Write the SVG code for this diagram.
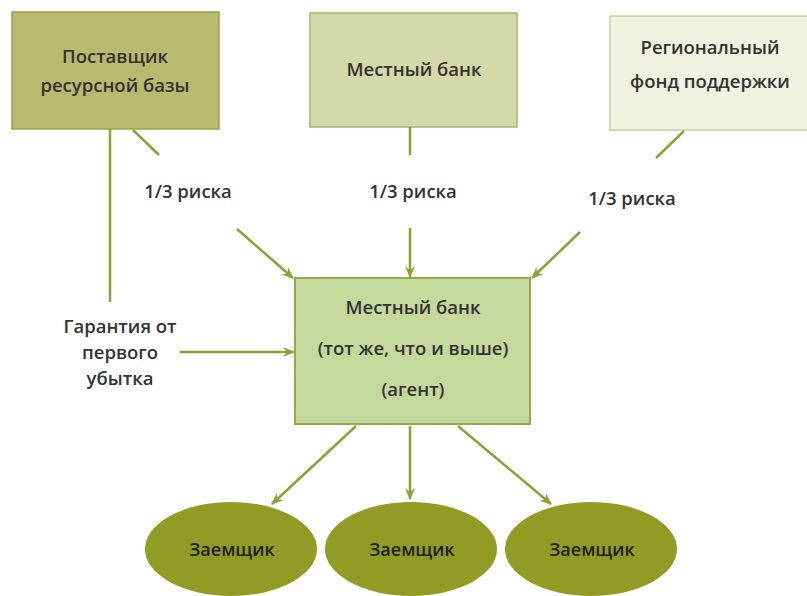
<svg xmlns="http://www.w3.org/2000/svg" width="807" height="596" viewBox="0 0 807 596">
<defs>
<marker id="ah" viewBox="0 0 12 10" refX="11" refY="5" markerWidth="12" markerHeight="10" markerUnits="userSpaceOnUse" orient="auto">
<path d="M0,0 L12,5 L0,10 L4,5 z" fill="#8aa232"/>
</marker>
<style>
.t{font-family:"Open Sans","Noto Sans","DejaVu Sans",sans-serif;font-weight:600;font-size:18.5px;fill:#333;text-anchor:middle}
.e{fill:#202020;font-size:18px}
.ln{stroke:#8aa232;stroke-width:2.5;fill:none}
.ar{stroke:#8aa232;stroke-width:2.5;fill:none;marker-end:url(#ah)}
.ell{fill:#919c24}
</style>
</defs>
<rect width="807" height="596" fill="#fff"/>
<g id="supplier">
<rect x="12" y="12" width="207" height="117" fill="#b6bb6d" stroke="#9ca24c" stroke-width="1.5"/>
<text class="t" x="115" y="63">Поставщик</text>
<text class="t" x="115" y="92">ресурсной базы</text>
</g>
<g id="bank-top">
<rect x="310" y="13" width="207" height="114" fill="#d3d9a8" stroke="#acb36c" stroke-width="1.5"/>
<text class="t" x="414" y="76">Местный банк</text>
</g>
<g id="fund">
<rect x="610" y="16" width="200" height="114" fill="#eef2de" stroke="#c6cda2" stroke-width="1.5"/>
<text class="t" x="710" y="54">Региональный</text>
<text class="t" x="710" y="88">фонд поддержки</text>
</g>
<g id="bank-agent">
<rect x="295" y="278" width="235" height="146" fill="#c6d99c" stroke="#8fae48" stroke-width="2"/>
<text class="t" x="413" y="314">Местный банк</text>
<text class="t" x="413" y="355">(тот же, что и выше)</text>
<text class="t" x="413" y="396">(агент)</text>
</g>
<g id="borrower1">
<ellipse class="ell" cx="231" cy="549" rx="86" ry="47"/>
<text class="t e" x="232" y="556">Заемщик</text>
</g>
<g id="borrower2">
<ellipse class="ell" cx="411" cy="549" rx="86" ry="47"/>
<text class="t e" x="412" y="556">Заемщик</text>
</g>
<g id="borrower3">
<ellipse class="ell" cx="591" cy="549" rx="86" ry="47"/>
<text class="t e" x="592" y="556">Заемщик</text>
</g>
<g id="labels">
<text class="t" x="188" y="198">1/3 риска</text>
<text class="t" x="413" y="198">1/3 риска</text>
<text class="t" x="632" y="205">1/3 риска</text>
<text class="t" x="120" y="333">Гарантия от</text>
<text class="t" x="120" y="359">первого</text>
<text class="t" x="120" y="385">убытка</text>
</g>
<g id="connectors">
<line class="ln" x1="110" y1="129" x2="110" y2="302"/>
<line class="ln" x1="133" y1="130" x2="159" y2="155"/>
<line class="ln" x1="410" y1="127" x2="410" y2="155"/>
<line class="ln" x1="684" y1="131" x2="656" y2="158"/>
<line class="ar" x1="237" y1="229" x2="293" y2="278"/>
<line class="ar" x1="410" y1="228" x2="410" y2="277"/>
<line class="ar" x1="580" y1="232" x2="532" y2="278"/>
<line class="ar" x1="180" y1="352" x2="294" y2="352"/>
<line class="ar" x1="356" y1="426" x2="272" y2="504"/>
<line class="ar" x1="410" y1="426" x2="410" y2="499"/>
<line class="ar" x1="458" y1="426" x2="551" y2="504"/>
</g>
</svg>
